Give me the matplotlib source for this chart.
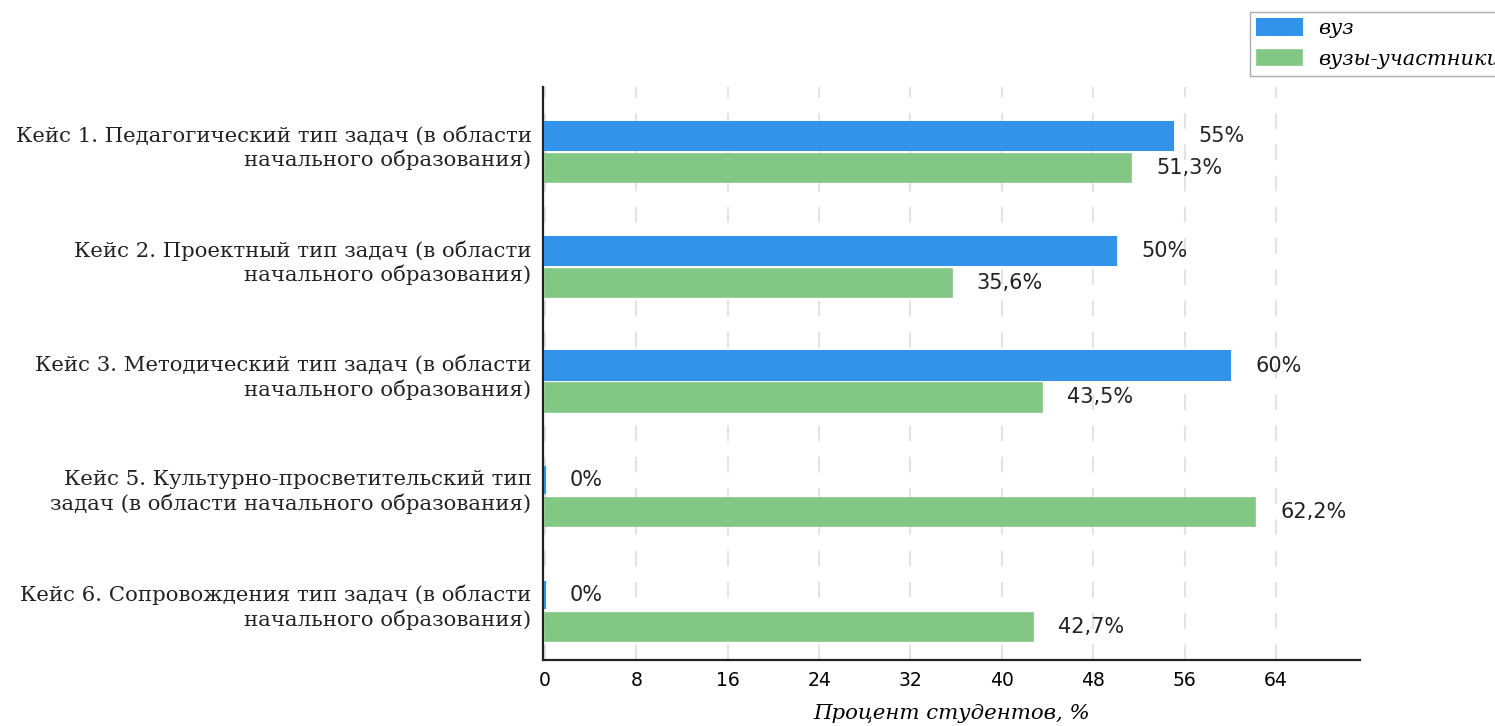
import matplotlib
matplotlib.use('Agg')
import matplotlib.pyplot as plt
import numpy as np

# Данные
categories = [
    'Кейс 1. Педагогический тип задач (в области\nначального образования)',
    'Кейс 2. Проектный тип задач (в области\nначального образования)',
    'Кейс 3. Методический тип задач (в области\nначального образования)',
    'Кейс 5. Культурно-просветительский тип\nзадач (в области начального образования)',
    'Кейс 6. Сопровождения тип задач (в области\nначального образования)',
]
vuz = [55, 50, 60, 0, 0]
vuz_labels = ['55%', '50%', '60%', '0%', '0%']
participants = [51.3, 35.6, 43.5, 62.2, 42.7]
participants_labels = ['51,3%', '35,6%', '43,5%', '62,2%', '42,7%']
xticks = [0, 8, 16, 24, 32, 40, 48, 56, 64]

blue = '#3193e9'
green = '#82c784'

plt.rcParams['font.family'] = ['DejaVu Serif']

fig = plt.figure(figsize=(14.95, 7.26), dpi=100)
ax = fig.add_axes([0.363, 0.091, 0.547, 0.789])

y = np.arange(len(categories))
h = 0.245
off = 0.139

ax.barh(y - off, vuz, height=h, color=blue, edgecolor=blue, linewidth=1.5, zorder=3, label='вуз')
ax.barh(y + off, participants, height=h, color=green, edgecolor=green, linewidth=1.2, zorder=3,
        label='вузы-участники')

for i in range(len(categories)):
    ax.text(vuz[i] + 2.2, y[i] - off, vuz_labels[i], va='center', ha='left', fontsize=15,
            family='DejaVu Sans', color='#222222')
    ax.text(participants[i] + 2.2, y[i] + off, participants_labels[i], va='center', ha='left',
            fontsize=15, family='DejaVu Sans', color='#222222')

# подписи категорий чуть выше центра группы
ax.set_yticks(y - 0.07)
ax.set_yticklabels(categories, fontsize=15.3, color='#222222', linespacing=1.25)

ax.set_ylim(len(categories) - 1 + 0.426, -0.565)
ax.set_xlim(-0.2, 71.4)
ax.set_xticks(xticks)
ax.set_xticklabels([str(t) for t in xticks], fontsize=13.5, family='DejaVu Sans')
ax.tick_params(length=0)
ax.tick_params(axis='x', pad=8)
ax.tick_params(axis='y', pad=8)

ax.xaxis.grid(True, color='#e3e3e3', linewidth=1.5, linestyle=(0, (7.5, 7.5)), zorder=0)
ax.set_axisbelow(True)

for s in ['top', 'right']:
    ax.spines[s].set_visible(False)
for s in ['left', 'bottom']:
    ax.spines[s].set_linewidth(1.6)
    ax.spines[s].set_color('#222222')

ax.set_xlabel('Процент студентов, %', fontsize=15.3, fontstyle='italic', labelpad=10)

fig.legend(loc='upper left', bbox_to_anchor=(1250 / 1495, 1 - 12 / 726), borderaxespad=0,
           prop={'style': 'italic', 'size': 15}, frameon=True, fancybox=False,
           edgecolor='#999999', handlelength=2.16, handleheight=0.75, borderpad=0.35,
           labelspacing=0.55, handletextpad=0.75)

fig.savefig('out.png', dpi=100)
